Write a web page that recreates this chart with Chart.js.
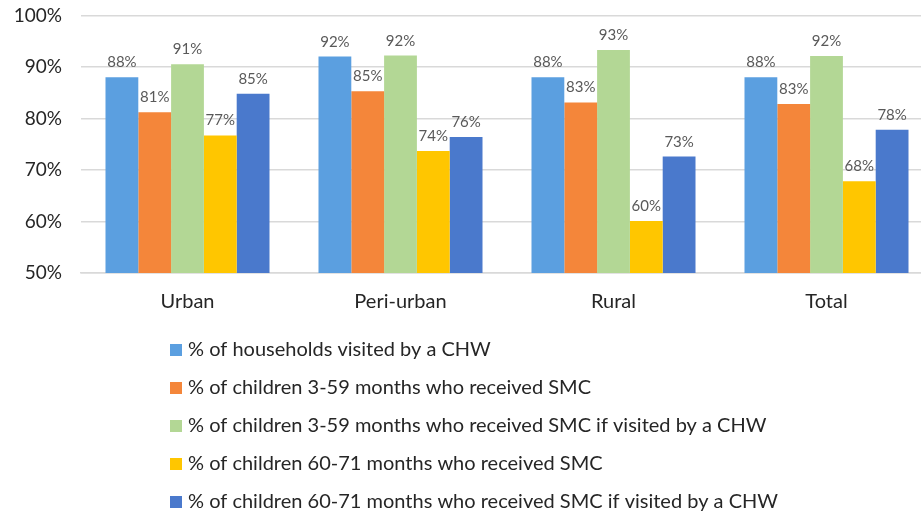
<!DOCTYPE html>
<html>
<head>
<meta charset="utf-8">
<script src="https://cdn.jsdelivr.net/npm/chart.js@4/dist/chart.umd.min.js"></script>
<style>
  html, body { margin: 0; padding: 0; background: #fff; overflow: hidden; }
  #wrap { position: relative; width: 933px; height: 514px; }
</style>
</head>
<body>
<div id="wrap"><canvas id="c"></canvas></div>
<script>
const categories = ["Urban", "Peri-urban", "Rural", "Total"];
const seriesNames = [
  "% of households visited by a CHW",
  "% of children 3-59 months who received SMC",
  "% of children 3-59 months who received SMC if visited by a CHW",
  "% of children 60-71 months who received SMC",
  "% of children 60-71 months who received SMC if visited by a CHW"
];
const householdsVisited = [88.0, 92.0, 88.0, 88.0];
const children359 = [81.2, 85.3, 83.1, 82.8];
const children359Visited = [90.5, 92.2, 93.3, 92.1];
const children6071 = [76.7, 73.7, 60.1, 67.8];
const children6071Visited = [84.8, 76.4, 72.6, 77.8];
const yTicks = [50, 60, 70, 80, 90, 100];

const colors = ["#5B9FE0", "#F4863A", "#B3D795", "#FFC600", "#4A79CC"];
const seriesValues = [householdsVisited, children359, children359Visited, children6071, children6071Visited];
const FONT = "Lato, 'Liberation Sans', sans-serif";

const dataLabels = {
  id: "dataLabels",
  afterDatasetsDraw(chart) {
    const ctx = chart.ctx;
    ctx.save();
    ctx.font = "15px " + FONT;
    ctx.fillStyle = "#595959";
    ctx.textAlign = "center";
    ctx.textBaseline = "alphabetic";
    chart.data.datasets.forEach((ds, i) => {
      const meta = chart.getDatasetMeta(i);
      meta.data.forEach((bar, j) => {
        ctx.fillText(Math.round(ds.data[j]) + "%", bar.x, bar.y - 10);
      });
    });
    ctx.restore();
  }
};

const customLegend = {
  id: "customLegend",
  afterDraw(chart) {
    const ctx = chart.ctx;
    ctx.save();
    ctx.font = "20px " + FONT;
    ctx.textAlign = "left";
    ctx.textBaseline = "middle";
    const rows = [350, 388, 426, 464, 502];
    chart.data.datasets.forEach((ds, i) => {
      const y = rows[i];
      ctx.fillStyle = ds.backgroundColor;
      ctx.fillRect(170, y - 6, 12, 12);
      ctx.fillStyle = "#262626";
      ctx.fillText(ds.label, 188, y);
    });
    ctx.restore();
  }
};

new Chart(document.getElementById("c"), {
  type: "bar",
  data: {
    labels: categories,
    datasets: seriesNames.map((name, i) => ({
      label: name,
      data: seriesValues[i],
      backgroundColor: colors[i],
      borderWidth: 0,
      categoryPercentage: 0.77,
      barPercentage: 1.0
    }))
  },
  options: {
    responsive: true,
    maintainAspectRatio: false,
    animation: false,
    layout: { padding: { top: 0, right: 0, bottom: 0, left: 0 } },
    plugins: {
      legend: { display: false },
      tooltip: { enabled: false }
    },
    scales: {
      x: {
        grid: { display: false, drawTicks: false },
        border: { display: true, color: "#D9D9D9", width: 1.5 },
        ticks: { color: "#262626", font: { family: FONT, size: 20 }, padding: 17 },
        afterFit(scale) { scale.height = 241; }
      },
      y: {
        min: 50,
        max: 100,
        afterBuildTicks(scale) { scale.ticks = yTicks.map(v => ({ value: v })); },
        grid: { color: "#D9D9D9", lineWidth: 1.5, drawTicks: true, tickLength: 15, tickColor: "rgba(0,0,0,0)" },
        border: { display: false },
        ticks: {
          color: "#262626",
          font: { family: FONT, size: 19 },
          padding: 4,
          callback: v => v + "%"
        },
        afterFit(scale) { scale.width = 81; }
      }
    }
  },
  plugins: [dataLabels, customLegend]
});
</script>
</body>
</html>
